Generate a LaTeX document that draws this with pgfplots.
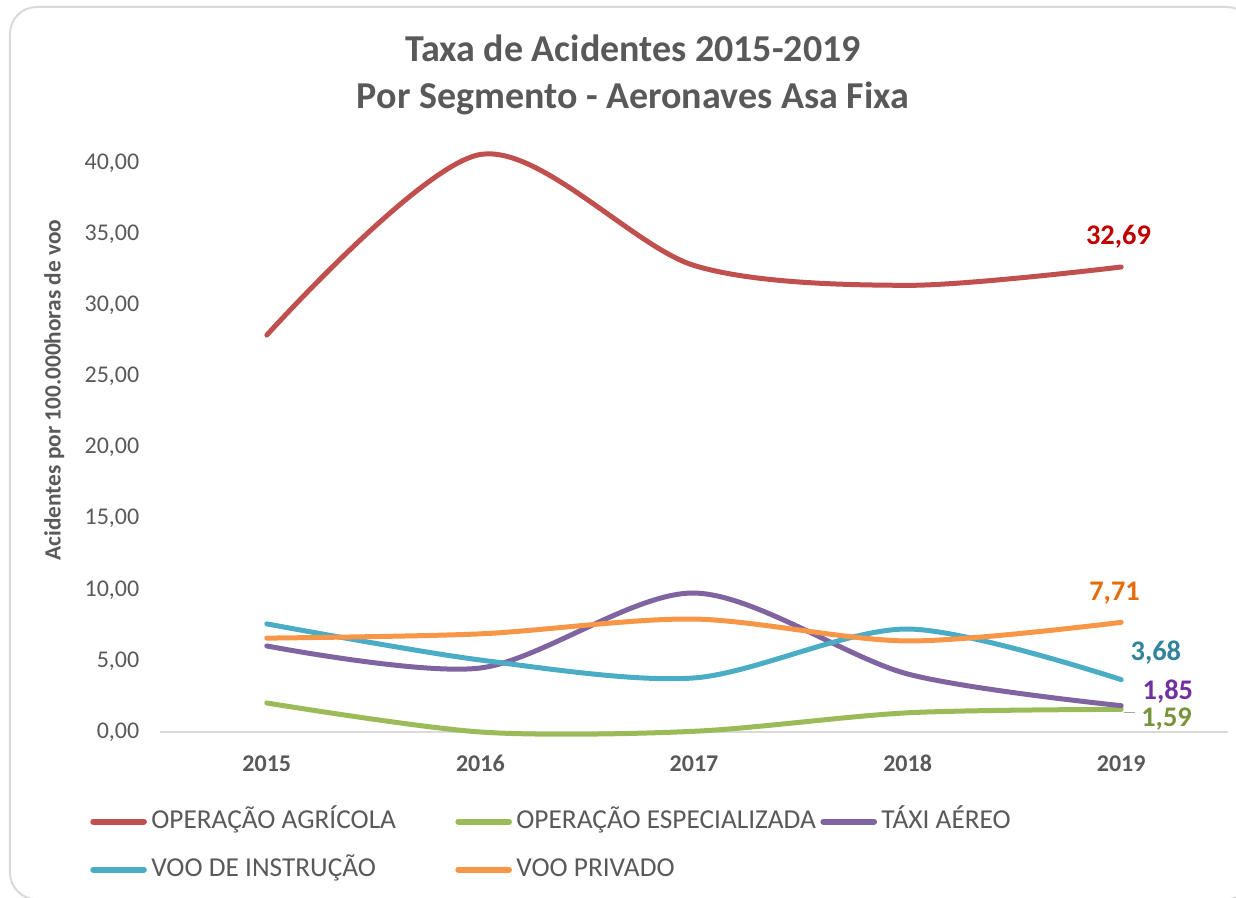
\documentclass[border=0pt]{standalone}
\usepackage{fontspec}
\setmainfont{Carlito}
\usepackage{pgfplots}
\pgfplotsset{compat=1.18}
\definecolor{txt}{HTML}{595959}
\definecolor{agri}{HTML}{C0504D}
\definecolor{espe}{HTML}{9BBB59}
\definecolor{taxi}{HTML}{8064A2}
\definecolor{inst}{HTML}{4BACC6}
\definecolor{priv}{HTML}{F79646}
\definecolor{agrilab}{HTML}{C00000}
\definecolor{espelab}{HTML}{77933C}
\definecolor{taxilab}{HTML}{7030A0}
\definecolor{instlab}{HTML}{31849B}
\definecolor{privlab}{HTML}{E46C0A}
\definecolor{frame}{HTML}{D9D9D9}

\begin{document}
\begin{tikzpicture}
\path[use as bounding box] (-120pt,-123.75pt) rectangle (807pt,549pt);
\begin{axis}[
  at={(0,0)}, anchor=south west,
  scale only axis, width=801pt, height=426.75pt,
  xmin=2014.5, xmax=2019.5, ymin=0, ymax=40,
  xtick={2015,2016,2017,2018,2019},
  ytick={0,5,...,40},
  clip=false,
  axis y line*=left, axis x line*=bottom,
  y axis line style={draw=none},
  x axis line style={frame, line width=1.2pt, -},
  major tick length=0pt,
  xticklabel style={font=\fontsize{18}{21}\selectfont\bfseries, color=txt, yshift=-14pt},
  yticklabel style={font=\fontsize{18}{21}\selectfont, color=txt, xshift=-12pt},
  x tick label style={/pgf/number format/1000 sep={}},
  y tick label style={/pgf/number format/.cd, fixed, fixed zerofill, precision=2, use comma},
  /pgf/number format/assume math mode=true,
  ylabel={Acidentes por 100.000horas de voo},
  ylabel style={font=\fontsize{17.5}{21}\selectfont\bfseries, color=txt,
    at={(axis description cs:-0.099,0.601)}, anchor=center},
  every axis plot/.append style={smooth, line width=3.75pt, line cap=round, no markers},
  legend columns=3,
  legend cell align=left,
  legend image code/.code={\draw[#1, line cap=round, line width=4.5pt] (0pt,0pt) -- (38pt,0pt);},
  legend style={draw=none, fill=none, at={(axis description cs:0,0)}, anchor=north west,
    xshift=-55.5pt, yshift=-55pt,
    font=\fontsize{20.5}{24}\selectfont, text=txt,
    nodes={inner sep=0pt, text height=15pt, text depth=5pt},
    /tikz/every odd column/.style={column sep=3.3pt},
    /tikz/every even column/.style={column sep=0pt},
    row sep=16pt},
]
\addplot[agri] coordinates {(2015,27.9) (2016,40.6) (2017,32.8) (2018,31.4) (2019,32.69)};
\addlegendentry{\makebox[228pt][l]{OPERAÇÃO AGRÍCOLA}}
\addplot[espe] coordinates {(2015,2.04) (2016,0.0) (2017,0.05) (2018,1.35) (2019,1.59)};
\addlegendentry{\makebox[228pt][l]{OPERAÇÃO ESPECIALIZADA}}
\addplot[taxi] coordinates {(2015,6.05) (2016,4.5) (2017,9.77) (2018,4.08) (2019,1.85)};
\addlegendentry{TÁXI AÉREO}
\addplot[inst] coordinates {(2015,7.6) (2016,5.06) (2017,3.8) (2018,7.24) (2019,3.68)};
\addlegendentry{\makebox[228pt][l]{VOO DE INSTRUÇÃO}}
\addplot[priv] coordinates {(2015,6.6) (2016,6.9) (2017,7.94) (2018,6.4) (2019,7.71)};
\addlegendentry{VOO PRIVADO}

\node[font=\fontsize{21.3}{25}\selectfont\bfseries, text=agrilab, yshift=22.5pt, xshift=-2pt] at (axis cs:2019,32.69) {32,69};
\node[font=\fontsize{21.3}{25}\selectfont\bfseries, text=privlab, yshift=22pt, xshift=-5pt] at (axis cs:2019,7.71) {7,71};
\node[font=\fontsize{21.3}{25}\selectfont\bfseries, text=instlab, yshift=20pt, xshift=26pt] at (axis cs:2019,3.68) {3,68};
\node[font=\fontsize{21.3}{25}\selectfont\bfseries, text=taxilab, yshift=10.5pt, xshift=35pt] at (axis cs:2019,1.85) {1,85};
\node[font=\fontsize{21.3}{25}\selectfont\bfseries, text=espelab, yshift=-7pt, xshift=34pt] at (axis cs:2019,1.59) {1,59};
\draw[gray!70, line width=1pt] (axis cs:2019,1.59) ++(2pt,-2.5pt) -- ++(8pt,0pt);
\end{axis}
\node[font=\fontsize{28.5}{34}\selectfont\bfseries, text=txt] at (354.75pt,513pt) {Taxa de Acidentes 2015-2019};
\node[font=\fontsize{28.5}{34}\selectfont\bfseries, text=txt] at (354.75pt,475.5pt) {Por Segmento - Aeronaves Asa Fixa};
\draw[frame, line width=1.5pt, rounded corners=20pt] (-112.5pt,-125.5pt) rectangle (820pt,543.75pt);
\end{tikzpicture}
\end{document}
